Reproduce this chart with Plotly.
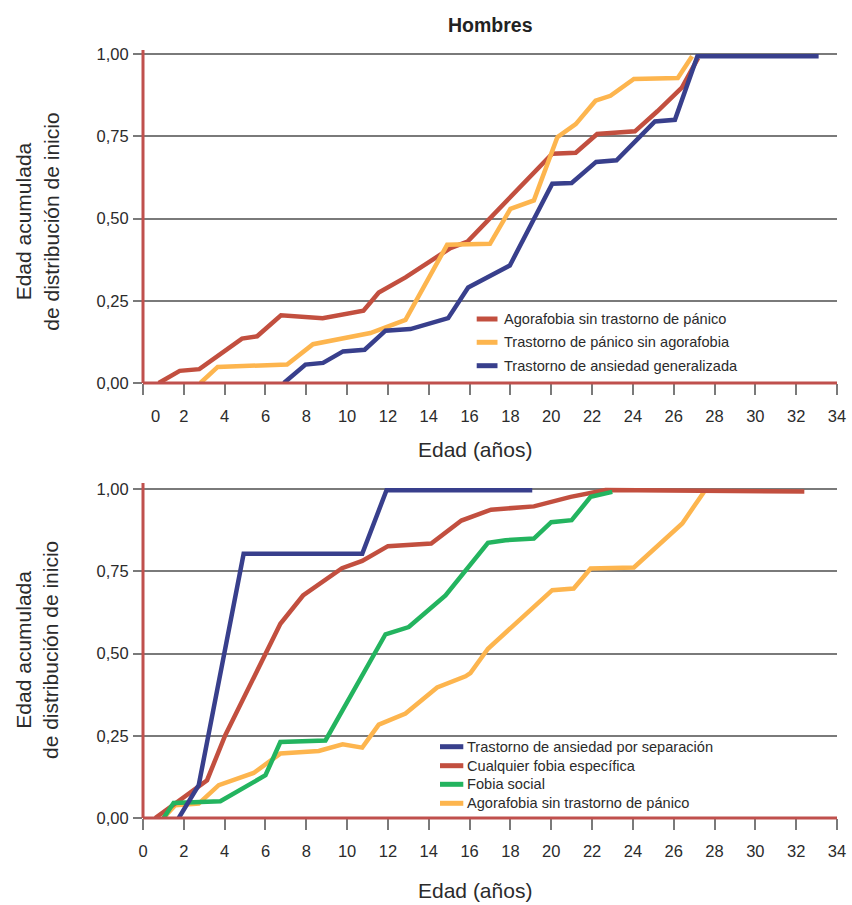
import plotly.graph_objects as go

# ---------------- data ----------------
# Top panel: "Hombres"
top_names = ["Agorafobia sin trastorno de pánico",
             "Trastorno de pánico sin agorafobia",
             "Trastorno de ansiedad generalizada"]
top_colors = ["#C24F3F", "#FDB54E", "#383F8C"]

agora_top_x = [0.77, 1.8, 2.76, 4.85, 5.59, 6.76, 8.8, 10.8, 11.55, 12.86, 15.06, 15.9,
               20.05, 21.2, 22.25, 24.1, 25.2, 26.4, 27.2]
agora_top_y = [0.0, 0.037, 0.042, 0.135, 0.142, 0.206, 0.197, 0.22, 0.275, 0.321, 0.41, 0.43,
               0.697, 0.70, 0.757, 0.765, 0.826, 0.898, 0.988]

panico_x = [2.81, 3.66, 7.06, 8.33, 11.14, 12.86, 14.9, 17.0, 18.0, 19.15, 20.3, 21.2,
            22.17, 22.9, 24.05, 26.2, 26.9]
panico_y = [0.0, 0.049, 0.056, 0.118, 0.152, 0.192, 0.42, 0.423, 0.529, 0.555, 0.747, 0.787,
            0.858, 0.873, 0.924, 0.927, 0.993]

tag_x = [6.9, 7.96, 8.82, 9.8, 10.86, 11.88, 13.1, 14.95, 15.93, 17.97, 20.05, 21.0,
         22.2, 23.2, 25.08, 26.06, 27.16, 33.1]
tag_y = [0.0, 0.056, 0.061, 0.096, 0.101, 0.159, 0.164, 0.197, 0.29, 0.357, 0.606, 0.608,
         0.672, 0.677, 0.795, 0.80, 0.993, 0.993]

# Bottom panel
bot_names = ["Trastorno de ansiedad por separación",
             "Cualquier fobia específica",
             "Fobia social",
             "Agorafobia sin trastorno de pánico"]
bot_colors = ["#383F8C", "#C24F3F", "#23B45F", "#FDB54E"]

sep_x = [1.75, 2.73, 4.93, 10.74, 11.93, 19.07]
sep_y = [0.0, 0.10, 0.804, 0.804, 0.997, 0.997]

fob_esp_x = [0.6, 1.91, 3.14, 4.03, 6.73, 7.84, 9.75, 10.74, 12.0, 14.12, 15.6, 17.05,
             19.15, 20.95, 22.66, 32.4]
fob_esp_y = [0.0, 0.059, 0.115, 0.252, 0.591, 0.677, 0.76, 0.782, 0.827, 0.835, 0.905, 0.938,
             0.948, 0.977, 0.998, 0.993]

fob_soc_x = [1.01, 1.5, 3.79, 6.0, 6.73, 8.94, 11.88, 13.02, 14.82, 16.9, 17.76, 19.15,
             20.0, 21.0, 21.93, 22.99]
fob_soc_y = [0.0, 0.046, 0.051, 0.13, 0.231, 0.236, 0.559, 0.581, 0.677, 0.837, 0.845, 0.85,
             0.90, 0.906, 0.977, 0.992]

agora_bot_x = [1.0, 1.58, 2.73, 3.71, 5.42, 6.73, 8.61, 9.78, 10.74, 11.55, 12.86, 14.41,
               15.8, 16.04, 16.9, 20.05, 21.1, 21.93, 24.05, 25.27, 26.42, 27.48]
agora_bot_y = [0.0, 0.039, 0.044, 0.10, 0.137, 0.196, 0.204, 0.224, 0.214, 0.284, 0.318, 0.397,
               0.431, 0.441, 0.515, 0.693, 0.698, 0.759, 0.762, 0.83, 0.896, 0.992]

x_ticks = list(range(0, 35, 2))
y_ticks = [0, 0.25, 0.5, 0.75, 1.0]

title_text = "Hombres"
x_title = "Edad (años)"
y_title = "Edad acumulada<br>de distribución de inicio"

# ---------------- layout geometry (pixels) ----------------
W, H = 852, 905
PL, PR = 143, 837              # x = 0 and x = 34
TOP_T, TOP_B = 50, 383         # top panel pixel extents
BOT_T, BOT_B = 483, 818        # bottom panel pixel extents
PX_PER_Y_TOP = 329.0
PX_PER_Y_BOT = 328.7

plot_h = BOT_B - TOP_T


def py(p):  # pixel y -> paper y
    return (BOT_B - p) / plot_h


def px(p):  # pixel x -> paper x
    return (p - PL) / (PR - PL)


FONT = "Liberation Sans, Arial, sans-serif"
AX_RED = "#C0504D"
GRID = "#7a7a7a"
TXT = "#2b2b2b"
TICK_SIZE = 16.5

fig = go.Figure()

top_series = [(agora_top_x, agora_top_y), (panico_x, panico_y), (tag_x, tag_y)]
for (xs, ys), name, col in zip(top_series, top_names, top_colors):
    fig.add_trace(go.Scatter(x=xs, y=ys, mode="lines", name=name, showlegend=False,
                             line=dict(color=col, width=4.5), xaxis="x", yaxis="y"))

bot_series = [(sep_x, sep_y), (fob_esp_x, fob_esp_y), (fob_soc_x, fob_soc_y),
              (agora_bot_x, agora_bot_y)]
draw_order = [3, 1, 2, 0]
for i in draw_order:
    xs, ys = bot_series[i]
    fig.add_trace(go.Scatter(x=xs, y=ys, mode="lines", name=bot_names[i], showlegend=False,
                             line=dict(color=bot_colors[i], width=4.5), xaxis="x2", yaxis="y2"))

common_x = dict(range=[0, 34], tickvals=x_ticks, tickmode="array", ticks="outside", ticklen=11,
                tickwidth=1.5, tickcolor=GRID, showgrid=False, zeroline=False, showline=False,
                automargin=False,
                tickfont=dict(family=FONT, size=TICK_SIZE, color=TXT), ticklabelstandoff=7,
                fixedrange=True)
common_y = dict(tickvals=y_ticks, tickmode="array", tickformat=".2f", ticks="outside",
                ticklen=9, tickwidth=1.5, tickcolor=GRID, showgrid=True, gridcolor=GRID,
                gridwidth=1.5, zeroline=False, showline=False, automargin=False,
                tickfont=dict(family=FONT, size=TICK_SIZE, color=TXT),
                ticklabelstandoff=1, fixedrange=True)

top_xt = [("" if v == 0 else str(v)) for v in x_ticks]
top_ymax = (TOP_B - TOP_T) / PX_PER_Y_TOP
bot_ymax = (BOT_B - BOT_T) / PX_PER_Y_BOT

fig.update_layout(
    template="none",
    width=W, height=H,
    margin=dict(l=PL, r=W - PR, t=TOP_T, b=H - BOT_B, pad=0, autoexpand=False),
    paper_bgcolor="white", plot_bgcolor="white",
    separators=",.",
    showlegend=False,
    xaxis=dict(common_x, domain=[0, 1], anchor="y", ticktext=top_xt),
    yaxis=dict(common_y, domain=[py(TOP_B), 1], anchor="x", range=[0, top_ymax]),
    xaxis2=dict(common_x, domain=[0, 1], anchor="y2", ticktext=[str(v) for v in x_ticks]),
    yaxis2=dict(common_y, domain=[0, py(BOT_T)], anchor="x2", range=[0, bot_ymax]),
)

shapes = []
annotations = []

# red axis lines
for xr, yr in (("x", "y"), ("x2", "y2")):
    shapes.append(dict(type="line", xref=f"{xr} domain", yref=f"{yr} domain",
                       x0=0, x1=1, y0=0, y1=0, line=dict(color=AX_RED, width=3), layer="above"))
    shapes.append(dict(type="line", xref=f"{xr} domain", yref=f"{yr} domain",
                       x0=0, x1=0, y0=0, y1=1, line=dict(color=AX_RED, width=3), layer="above"))

# shifted "0" label in the top panel
annotations.append(dict(text="0", xref="x", yref="y", x=0.6, y=0, yshift=-33.4,
                        xanchor="center", yanchor="middle", showarrow=False,
                        font=dict(family=FONT, size=TICK_SIZE, color=TXT)))

# title
annotations.append(dict(text=f"<b>{title_text}</b>", xref="paper", yref="paper",
                        x=px(490), y=py(25), xanchor="center", yanchor="middle",
                        showarrow=False, font=dict(family=FONT, size=19.5, color="#222")))

# axis titles
for yc_t, yc_x in ((221.7, 449), (650, 890)):
    annotations.append(dict(text=x_title, xref="paper", yref="paper", x=px(475), y=py(yc_x),
                            xanchor="center", yanchor="middle", showarrow=False,
                            font=dict(family=FONT, size=21, color=TXT)))
    annotations.append(dict(text=y_title, xref="paper", yref="paper", x=px(37), y=py(yc_t),
                            xanchor="center", yanchor="middle", showarrow=False, textangle=-90,
                            font=dict(family=FONT, size=21, color=TXT)))


# legends (drawn as layout items)
def legend(names, colors, sx0, sx1, tx, rows):
    for nm, col, ry in zip(names, colors, rows):
        shapes.append(dict(type="line", xref="paper", yref="paper", x0=px(sx0), x1=px(sx1),
                           y0=py(ry), y1=py(ry), line=dict(color=col, width=5)))
        annotations.append(dict(text=nm, xref="paper", yref="paper", x=px(tx), y=py(ry),
                                xanchor="left", yanchor="middle", showarrow=False,
                                font=dict(family=FONT, size=14.6, color=TXT)))


legend(top_names, top_colors, 476.7, 497.5, 501.5, [319.0, 342.3, 365.7])
legend(bot_names, bot_colors, 440.0, 463.3, 465.0, [746.7, 765.7, 784.3, 803.3])

fig.update_layout(shapes=shapes, annotations=annotations)

fig.write_html("out.html", config={"displayModeBar": False},
               post_script="document.body.style.margin='0px';")
